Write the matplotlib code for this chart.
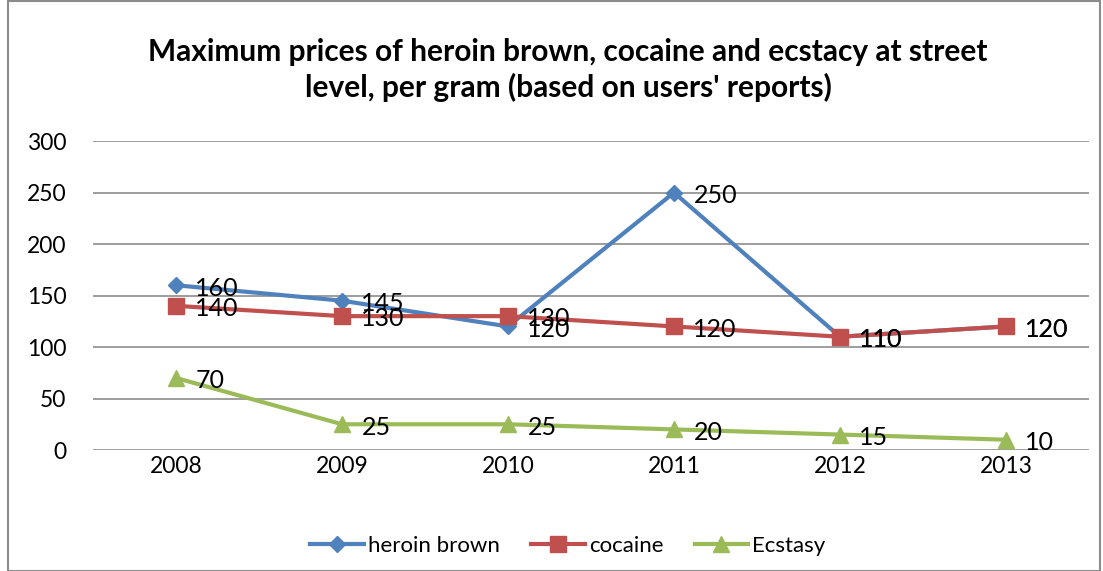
import numpy as np
import matplotlib.pyplot as plt
from matplotlib.patches import Rectangle

years = ['2008', '2009', '2010', '2011', '2012', '2013']
heroin = [160, 145, 120, 250, 110, 120]
cocaine = [140, 130, 130, 120, 110, 120]
ecstasy = [70, 25, 25, 20, 15, 10]

plt.rcParams['font.family'] = ['Lato', 'DejaVu Sans']

fig = plt.figure(figsize=(11.03, 5.71), dpi=100)
ax = fig.add_axes([0.0843, 0.2119, 0.903, 0.541])

x = np.arange(len(years))
series = [
    ('heroin brown', heroin, '#4F81BD', 'D', 8),
    ('cocaine', cocaine, '#C0504D', 's', 11),
    ('Ecstasy', ecstasy, '#9BBB59', '^', 11),
]
for name, vals, col, mk, ms in series:
    ax.plot(x, vals, color=col, lw=3, marker=mk, markersize=ms, label=name)
    for xi, v in zip(x, vals):
        ax.annotate(str(v), (xi, v), xytext=(14, -2), textcoords='offset points',
                    va='center', ha='left', fontsize=18, color='black')

ax.set_xlim(-0.5, 5.5)
ax.set_ylim(0, 300)
ax.set_yticks(range(0, 301, 50))
ax.set_xticks(x)
ax.set_xticklabels(years)
ax.yaxis.grid(True, color='#8c8c8c', lw=1.2)
ax.set_axisbelow(True)
for s in ax.spines.values():
    s.set_visible(False)
ax.tick_params(length=0, labelsize=16.5)
ax.tick_params(axis='x', pad=4)
ax.tick_params(axis='y', pad=19)

fig.text(0.515, 0.877, "Maximum prices of heroin brown, cocaine and ecstacy at street\nlevel, per gram (based on users' reports)",
         ha='center', va='center', fontsize=21.5, fontweight='bold', linespacing=1.3)

ax.legend(loc='center', bbox_to_anchor=(0.477, -0.31), ncol=3, frameon=False,
          fontsize=16, handlelength=2.4, columnspacing=1.4, handletextpad=0.2)

fig.patches.append(Rectangle((0.007, 0.0), 0.99, 0.998, transform=fig.transFigure,
                             fill=False, edgecolor='#8c8c8c', lw=1.5))

fig.savefig('out.png', dpi=100)
